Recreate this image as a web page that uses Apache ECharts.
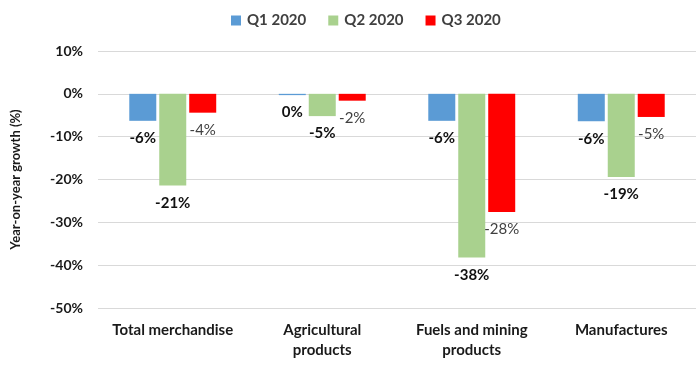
<!DOCTYPE html>
<html><head><meta charset="utf-8">
<script src="https://cdn.jsdelivr.net/npm/echarts@6/dist/echarts.min.js"></script>
<style>html,body{margin:0;padding:0;background:#fff}#c{width:700px;height:370px}</style>
</head><body><div id="c"></div>
<script>
var categories = ['Total merchandise', 'Agricultural\nproducts', 'Fuels and mining\nproducts', 'Manufactures'];
var seriesNames = ['Q1 2020', 'Q2 2020', 'Q3 2020'];
var q1 = [-6.3, -0.3, -6.3, -6.4];
var q2 = [-21.4, -5.2, -38.2, -19.4];
var q3 = [-4.4, -1.6, -27.6, -5.4];
var yTicks = [-50, -40, -30, -20, -10, 0, 10];
var colors = ['#5B9BD5', '#A9D18E', '#FF0000'];
var FONT = 'Lato';

function mk(name, data, color, bold, lcolor) {
  return {
    name: name, type: 'bar', data: data, barWidth: 27, barGap: '11%',
    itemStyle: { color: color },
    label: {
      show: true, position: 'bottom', distance: 10,
      formatter: function (p) { return Math.round(p.value) + '%'; },
      fontFamily: FONT, fontSize: 15, fontWeight: bold ? 'bold' : 'normal', color: lcolor
    }
  };
}

var chart = echarts.init(document.getElementById('c'));
chart.setOption({
  animation: false,
  textStyle: { fontFamily: FONT },
  legend: {
    top: 8, left: 226, itemWidth: 10, itemHeight: 10, itemGap: 22,
    icon: 'rect',
    textStyle: { fontFamily: FONT, fontSize: 15, fontWeight: 'bold', color: '#404040', padding: [0, 0, 0, 1] },
    data: seriesNames
  },
  grid: { left: 98, right: 4, top: 51, bottom: 62 },
  xAxis: {
    type: 'category', data: categories, position: 'bottom',
    axisLine: { show: false }, axisTick: { show: false },
    axisLabel: { margin: 12, fontFamily: FONT, fontSize: 15, fontWeight: 'bold', color: '#1a1a1a', lineHeight: 20, interval: 0 }
  },
  yAxis: {
    type: 'value', min: yTicks[0], max: yTicks[yTicks.length - 1], interval: 10,
    name: 'Year-on-year growth (%)', nameLocation: 'middle', nameGap: 76, nameRotate: 90,
    nameTextStyle: { fontFamily: FONT, fontSize: 13, fontWeight: 'bold', color: '#1a1a1a' },
    axisLine: { show: false }, axisTick: { show: false },
    axisLabel: { margin: 15, formatter: '{value}%', fontFamily: FONT, fontSize: 14, fontWeight: 'bold', color: '#1a1a1a' },
    splitLine: { lineStyle: { color: '#d9d9d9', width: 1 } }
  },
  series: [
    mk(seriesNames[0], q1, colors[0], true, '#111'),
    mk(seriesNames[1], q2, colors[1], true, '#111'),
    mk(seriesNames[2], q3, colors[2], false, '#404040')
  ]
});
</script></body></html>
